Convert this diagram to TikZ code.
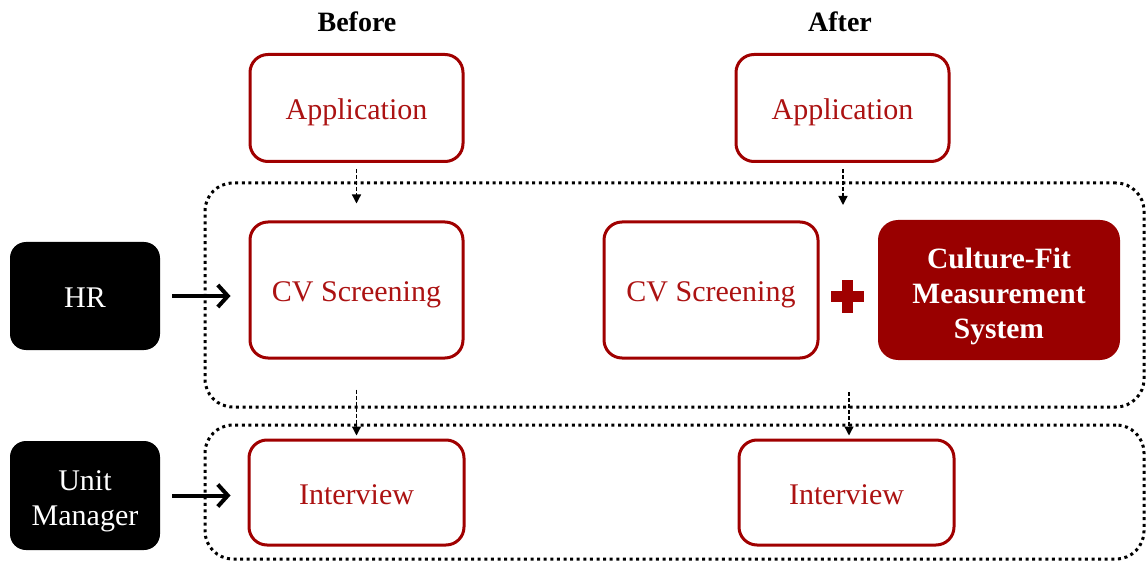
\documentclass[tikz,border=0pt]{standalone}
\usepackage{fontspec}
\setmainfont{Liberation Serif}
\usetikzlibrary{arrows.meta}
\definecolor{dred}{RGB}{160,0,0}
\definecolor{tred}{RGB}{172,18,18}
\definecolor{cfred}{RGB}{153,0,0}
\newcommand{\topstrut}[1]{\rule{0pt}{#1}}
\begin{document}
\begin{tikzpicture}[x=1pt,y=-1pt,
  lbl/.style={font=\fontsize{30}{35}\selectfont, text height=24pt, text depth=0pt},
  redbox/.style={lbl, draw=dred, line width=3pt, rounded corners=18pt, fill=white, text=tred, inner sep=0pt, align=center},
  blackbase/.style={fill=black, rounded corners=16pt, text=white, inner sep=0pt, align=center, minimum width=150pt, minimum height=108pt},
  blackbox/.style={lbl, blackbase},
  blackmulti/.style={font=\fontsize{30}{35}\selectfont, blackbase},
  cfbox/.style={font=\bfseries\fontsize{29.5}{35}\selectfont, fill=cfred, rounded corners=20pt, text=white, inner sep=0pt, align=center},
  groupbox/.style={draw=black, line width=3pt, dash pattern=on 3pt off 3.6pt, rounded corners=28pt, inner sep=0pt},
  flow/.style={line width=1.3pt, dash pattern=on 4pt off 2pt, -{Triangle[length=9pt,width=9pt]}},
  bigarrow/.style={line width=4pt, -{Straight Barb[length=10pt,width=22pt]}},
  head/.style={font=\bfseries\fontsize{28}{34}\selectfont}
]
\useasboundingbox (0,0) rectangle (1146,561);

% group frames
\node[groupbox, minimum width=939pt, minimum height=224pt] (g1) at (674.5,295) {};
\node[groupbox, minimum width=939pt, minimum height=134pt] (g2) at (674.5,492) {};

% headers
\node[head] (before) at (357,22) {Before};
\node[head] (after) at (840,22) {After};

% boxes
\node[redbox, minimum width=213pt, minimum height=107pt] (appB) at (356.5,108) {Application};
\node[redbox, minimum width=213pt, minimum height=107pt] (appA) at (842.5,108) {Application};
\node[redbox, minimum width=213pt, minimum height=136pt] (cvB) at (356.5,290) {CV Screening};
\node[redbox, minimum width=214pt, minimum height=136pt] (cvA) at (711,290) {CV Screening};
\node[cfbox, minimum width=242pt, minimum height=140pt] (cf) at (999,290) {\topstrut{34pt}Culture-Fit\\Measurement\\System};
\node[redbox, minimum width=215pt, minimum height=105pt] (intB) at (356.5,492.5) {Interview};
\node[redbox, minimum width=215pt, minimum height=105pt] (intA) at (846.5,492.5) {Interview};

\node[blackbox] (hr) at (85,296) {HR};
\node[blackmulti, minimum height=109pt] (um) at (85,495.5) {\topstrut{32pt}Unit\\Manager};

% plus sign
\coordinate (plus) at (847,297);
\fill[dred] ([shift={(-16.5,-5.5)}]plus) rectangle ([shift={(16.5,5.5)}]plus);
\fill[dred] ([shift={(-5.5,-16.5)}]plus) rectangle ([shift={(5.5,16.5)}]plus);

% flow arrows
\coordinate (aA) at (843,205);
\coordinate (cA) at (849,392);
\draw[flow, shorten <=6pt, shorten >=17pt] (appB) -- (cvB);
\draw[flow, shorten <=6pt] (appA.south -| aA) -- (aA);
\draw[flow, shorten <=30pt, shorten >=3pt] (cvB.south) -- (intB.north);
\draw[flow, shorten >=3pt] (cA) -- (intA.north -| cA);

% actor arrows
\draw[bigarrow, shorten <=12pt, shorten >=18pt] (hr.east) -- (hr.east -| cvB.west);
\draw[bigarrow, shorten <=12pt, shorten >=17pt] (um.east) -- (um.east -| intB.west);
\end{tikzpicture}
\end{document}
